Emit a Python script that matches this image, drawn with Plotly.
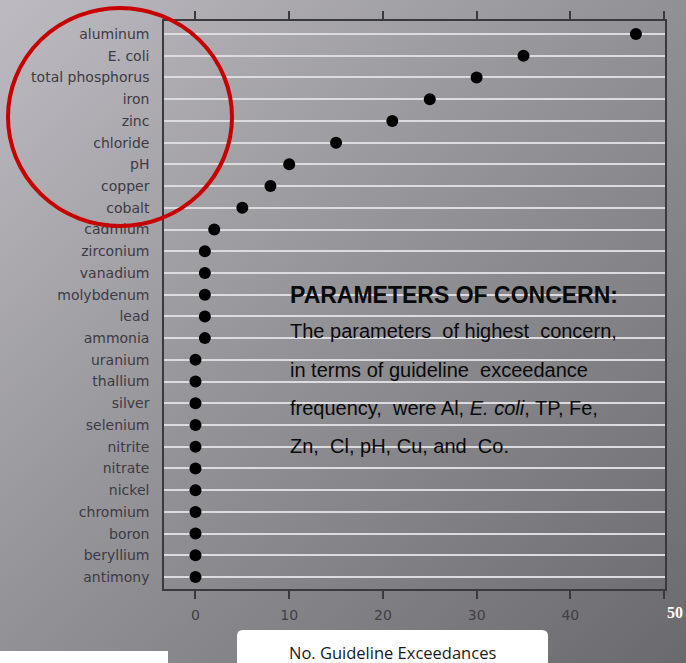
import base64
import plotly.graph_objects as go

# ---- data ----
parameters = ["aluminum", "E. coli", "total phosphorus", "iron", "zinc", "chloride", "pH",
              "copper", "cobalt", "cadmium", "zirconium", "vanadium", "molybdenum", "lead",
              "ammonia", "uranium", "thallium", "silver", "selenium", "nitrite", "nitrate",
              "nickel", "chromium", "boron", "beryllium", "antimony"]
exceedances = [47, 35, 30, 25, 21, 15, 10, 8, 5, 2, 1, 1, 1, 1, 1,
               0, 0, 0, 0, 0, 0, 0, 0, 0, 0, 0]
x_ticks = [0, 10, 20, 30, 40, 50]
x_tick_labels = ["0", "10", "20", "30", "40", ""]

W, H = 686, 663
ML, MR, MT, MB = 164, 21, 21, 74
PW, PH = W - ML - MR, H - MT - MB


def px(x):
    return (x - ML) / PW


def py(y):
    return (H - MB - y) / PH


# background gradient as an SVG image
svg = ('<svg xmlns="http://www.w3.org/2000/svg" width="686" height="663" viewBox="0 0 686 663" '
       'preserveAspectRatio="none"><defs><linearGradient id="g" x1="0" y1="0" x2="1" y2="1">'
       '<stop offset="0" stop-color="#bdbbc1"/><stop offset="0.45" stop-color="#959499"/>'
       '<stop offset="1" stop-color="#6a696e"/></linearGradient></defs>'
       '<rect width="686" height="663" fill="url(#g)"/></svg>')
bg_src = "data:image/svg+xml;base64," + base64.b64encode(svg.encode()).decode()

cats = parameters[::-1]
vals = exceedances[::-1]

fig = go.Figure()
fig.add_trace(go.Scatter(
    x=vals, y=cats, mode="markers",
    marker=dict(color="black", size=12),
    hoverinfo="skip", showlegend=False,
))

fig.update_layout(
    width=W, height=H,
    margin=dict(l=ML, r=MR, t=MT, b=MB, pad=0),
    paper_bgcolor="#929196",
    plot_bgcolor="rgba(0,0,0,0)",
    images=[dict(source=bg_src, xref="paper", yref="paper",
                 x=px(0), y=py(0), sizex=W / PW, sizey=H / PH,
                 xanchor="left", yanchor="top", sizing="stretch", layer="below")],
    xaxis=dict(
        range=[-3.36, 50.1], tickvals=x_ticks, ticktext=x_tick_labels,
        showgrid=False, zeroline=False,
        showline=True, linecolor="#3a3a3c", linewidth=1.5, mirror="allticks",
        ticks="outside", ticklen=8, tickwidth=1.5, tickcolor="#3a3a3c",
        tickfont=dict(family="DejaVu Sans", size=14, color="#423e46"),
        ticklabelstandoff=4,
    ),
    yaxis=dict(
        type="category", categoryorder="array", categoryarray=cats,
        range=[-0.55, 25.6],
        showgrid=True, gridcolor="#dcdbdf", gridwidth=2, zeroline=False,
        showline=True, linecolor="#3a3a3c", linewidth=1.5, mirror=True,
        ticks="", tickfont=dict(family="DejaVu Sans", size=14, color="#3e3a44"),
        ticklabelstandoff=10,
    ),
)

annotations = [
    dict(x=px(288), y=py(295), text="<b>PARAMETERS OF CONCERN:</b>",
         font=dict(family="Liberation Sans", size=23, color="#0a0a0a")),
    dict(x=px(288), y=py(331), text="The parameters  of highest  concern,",
         font=dict(family="Liberation Sans", size=20, color="#0a0a0a")),
    dict(x=px(288), y=py(370), text="in terms of guideline  exceedance",
         font=dict(family="Liberation Sans", size=20, color="#0a0a0a")),
    dict(x=px(288), y=py(408), text="frequency,  were Al, <i>E. coli</i>, TP, Fe,",
         font=dict(family="Liberation Sans", size=20, color="#0a0a0a")),
    dict(x=px(288), y=py(446), text="Zn,  Cl, pH, Cu, and  Co.",
         font=dict(family="Liberation Sans", size=20, color="#0a0a0a")),
]
for a in annotations:
    a.update(xref="paper", yref="paper", xanchor="left", yanchor="middle", showarrow=False)

annotations.append(dict(x=px(675), y=py(612), xref="paper", yref="paper", text="<b>50</b>",
                        showarrow=False, xanchor="center", yanchor="middle",
                        font=dict(family="Liberation Serif", size=16, color="white")))
annotations.append(dict(x=px(392), y=py(652), xref="paper", yref="paper",
                        text="No. Guideline Exceedances", showarrow=False,
                        xanchor="center", yanchor="middle",
                        font=dict(family="Open Sans", size=16.5, color="#1a1a1a")))
fig.update_layout(annotations=annotations)

# rounded white box for axis title
bx0, bx1, by0, by1, r = 237, 548, 630, 670, 6


def rounded_box(x0, x1, y0, y1, r):
    return (f"M {px(x0 + r)} {py(y0)} L {px(x1 - r)} {py(y0)} "
            f"Q {px(x1)} {py(y0)} {px(x1)} {py(y0 + r)} "
            f"L {px(x1)} {py(y1)} L {px(x0)} {py(y1)} L {px(x0)} {py(y0 + r)} "
            f"Q {px(x0)} {py(y0)} {px(x0 + r)} {py(y0)} Z")


shapes = [
    dict(type="path", xref="paper", yref="paper", path=rounded_box(bx0, bx1, by0, by1, r),
         fillcolor="white", line=dict(width=0), layer="below"),
    dict(type="rect", xref="paper", yref="paper", x0=px(0), x1=px(168), y0=py(651), y1=py(670),
         fillcolor="white", line=dict(width=0), layer="below"),
    dict(type="circle", xref="paper", yref="paper", x0=px(8), x1=px(232), y0=py(226), y1=py(8),
         line=dict(color="#c70000", width=4), fillcolor="rgba(0,0,0,0)", layer="above"),
]
fig.update_layout(shapes=shapes)

fig.write_html("out.html", config={"displayModeBar": False},
               post_script="document.body.style.margin='0';document.body.style.overflow='hidden';")
